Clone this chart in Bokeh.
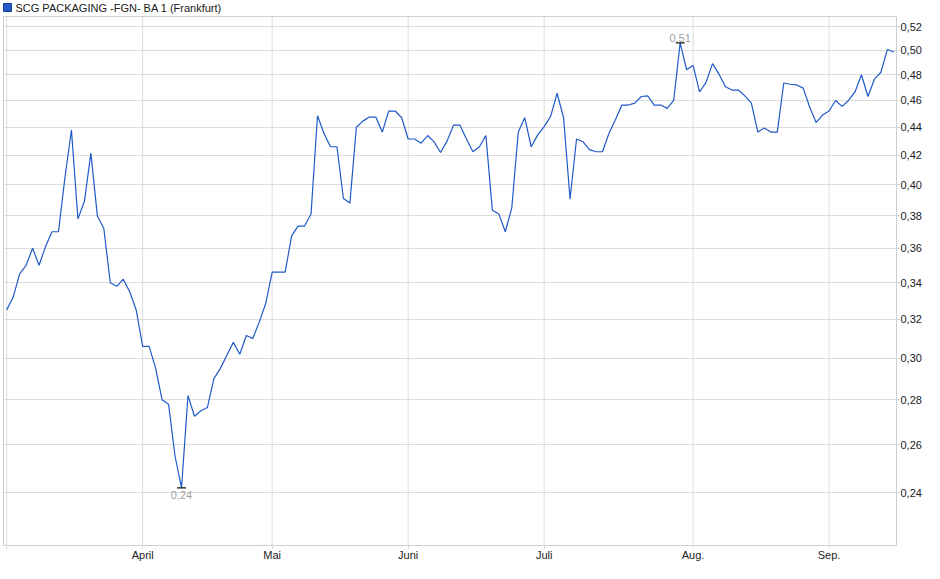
import numpy as np
from bokeh.plotting import figure
from bokeh.models import Range1d, FixedTicker, CustomJSTickFormatter, ColumnDataSource
from bokeh.core.properties import value
from bokeh.embed import file_html
from bokeh.resources import INLINE

# ---------------- data (daily closes, Frankfurt, trading-day index) ----------------
title_text = "SCG PACKAGING  -FGN- BA 1 (Frankfurt)"

prices = [
    0.325, 0.332, 0.345, 0.350, 0.360, 0.350, 0.361, 0.370, 0.370, 0.405,
    0.438, 0.378, 0.389, 0.4215, 0.380, 0.372, 0.340, 0.338, 0.342, 0.335,
    0.325, 0.306, 0.306, 0.295, 0.280, 0.278, 0.255, 0.242, 0.282, 0.2725,
    0.275, 0.2765, 0.290, 0.295, 0.3015, 0.308, 0.302, 0.3115, 0.310, 0.3185,
    0.3285, 0.346, 0.346, 0.346, 0.3675, 0.3735, 0.3735, 0.381, 0.4485, 0.4355,
    0.426, 0.426, 0.391, 0.388, 0.440, 0.4445, 0.4475, 0.4475, 0.4365, 0.452,
    0.452, 0.447, 0.4315, 0.4315, 0.4285, 0.434, 0.4295, 0.422, 0.430, 0.4415,
    0.4415, 0.4315, 0.4225, 0.426, 0.434, 0.3835, 0.381, 0.370, 0.385, 0.4365,
    0.447, 0.426, 0.4345, 0.4405, 0.448, 0.4655, 0.447, 0.3905, 0.4315, 0.4295,
    0.424, 0.4225, 0.4225, 0.4355, 0.4455, 0.4565, 0.4565, 0.458, 0.463, 0.4635,
    0.4565, 0.4565, 0.454, 0.460, 0.506, 0.484, 0.4875, 0.4665, 0.474, 0.489,
    0.4805, 0.4705, 0.468, 0.468, 0.4635, 0.458, 0.4365, 0.4395, 0.4365, 0.4365,
    0.4735, 0.4725, 0.472, 0.4695, 0.455, 0.4435, 0.449, 0.452, 0.460, 0.4555,
    0.460, 0.4665, 0.480, 0.463, 0.4765, 0.482, 0.5005, 0.4985,
]

month_tick_index = [0, 21, 41, 62, 83, 106, 127]
month_labels = ["", "April", "Mai", "Juni", "Juli", "Aug.", "Sep."]

y_ticks = [0.24, 0.26, 0.28, 0.30, 0.32, 0.34, 0.36, 0.38, 0.40,
           0.42, 0.44, 0.46, 0.48, 0.50, 0.52]

# ---------------- layout / styling ----------------
BLUE = "#1f5ac8"
GRID = "#dcdcdc"
BORDER = "#d0d0d0"
FONT = "Liberation Sans"
W, H = 924, 563
# frame occupies pixels [FL, FR] x [0, FB]; the header sits inside its top strip
FL, FR, FB = 2, 899, 546
X_START, X_END = -0.647, 137.565
Y_START, Y_END = 0.21956, 0.54291
# visible plot box (pixels)
BOX_L, BOX_R, BOX_T, BOX_B = 3, 898, 16, 545


def px_x(px):
    return X_START + (px - FL) * (X_END - X_START) / (FR - FL)


def px_y(py):
    return float(np.exp(np.log(Y_END) - py * (np.log(Y_END) - np.log(Y_START)) / FB))


idx = np.arange(len(prices))
src = ColumnDataSource(dict(idx=idx, val=prices))

p = figure(width=W, height=H, output_backend="svg", toolbar_location=None,
           title=None, y_axis_type="log", y_axis_location="right",
           x_range=Range1d(X_START, X_END), y_range=Range1d(Y_START, Y_END),
           min_border_left=FL, min_border_right=W - FR, min_border_top=0,
           min_border_bottom=H - FB)
p.background_fill_color = "white"
p.border_fill_color = "white"
p.outline_line_color = None

# axes
xt = FixedTicker(ticks=month_tick_index)
p.xaxis.ticker = xt
p.xaxis.major_label_overrides = {i: lab for i, lab in zip(month_tick_index, month_labels)}
p.xgrid.visible = False
yt = FixedTicker(ticks=y_ticks)
p.yaxis.ticker = yt
p.ygrid.ticker = yt
p.yaxis.formatter = CustomJSTickFormatter(code="return tick.toFixed(2).replace('.', ',');")

for ax in (p.xaxis, p.yaxis):
    ax.axis_line_color = None
    ax.major_tick_line_color = "#cccccc"
    ax.major_tick_in = 0
    ax.major_tick_out = 2
    ax.minor_tick_line_color = None
    ax.major_label_text_font = FONT
    ax.major_label_text_font_size = "11px"
    ax.major_label_text_color = "#222222"
p.xaxis.major_label_standoff = 0
p.yaxis.major_label_standoff = 1
p.ygrid.grid_line_color = GRID

# vertical month grid lines, limited to the plot box
n = len(month_tick_index)
p.segment(x0=month_tick_index, x1=month_tick_index,
          y0=[px_y(BOX_B)] * n, y1=[px_y(BOX_T)] * n,
          line_color=GRID, line_width=1)

# plot box border
bl, br, bt, bb = px_x(BOX_L), px_x(BOX_R), px_y(BOX_T), px_y(BOX_B)
p.segment(x0=[bl, bl, bl, br], x1=[br, br, bl, br],
          y0=[bt, bb, bb, bb], y1=[bt, bb, bt, bt],
          line_color=BORDER, line_width=1)

# price line
p.line(x="idx", y="val", source=src, line_color=BLUE, line_width=1.2)

# min / max markers
imin = int(np.argmin(prices))
imax = int(np.argmax(prices))
vmin = prices[imin]
vmax = prices[imax]
p.scatter(x=[imin, imax], y=[vmin, vmax], marker="dash", size=9,
          line_color="#111111", line_width=1.2)
p.text(x=[imin], y=[vmin], text=[f"{vmin:.2f}".replace(".", ",")],
       text_align="center", text_baseline="top", y_offset=3,
       text_font=value(FONT), text_font_size="11px", text_color="#a0a0a0")
p.text(x=[imax], y=[vmax], text=[f"{vmax:.2f}".replace(".", ",")],
       text_align="center", text_baseline="bottom", y_offset=-1,
       text_font=value(FONT), text_font_size="11px", text_color="#a0a0a0")

# header: blue square + series name
p.rect(x=[px_x(7)], y=[px_y(7)], width=8, height=8,
       width_units="screen", height_units="screen",
       fill_color=BLUE, line_color="#1b3f8a", line_width=1)
p.text(x=[px_x(15)], y=[px_y(7.5)], text=[title_text],
       text_align="left", text_baseline="middle",
       text_font=value(FONT), text_font_size="11px", text_color="#222222")

open("out.html", "w").write(file_html(p, INLINE))
